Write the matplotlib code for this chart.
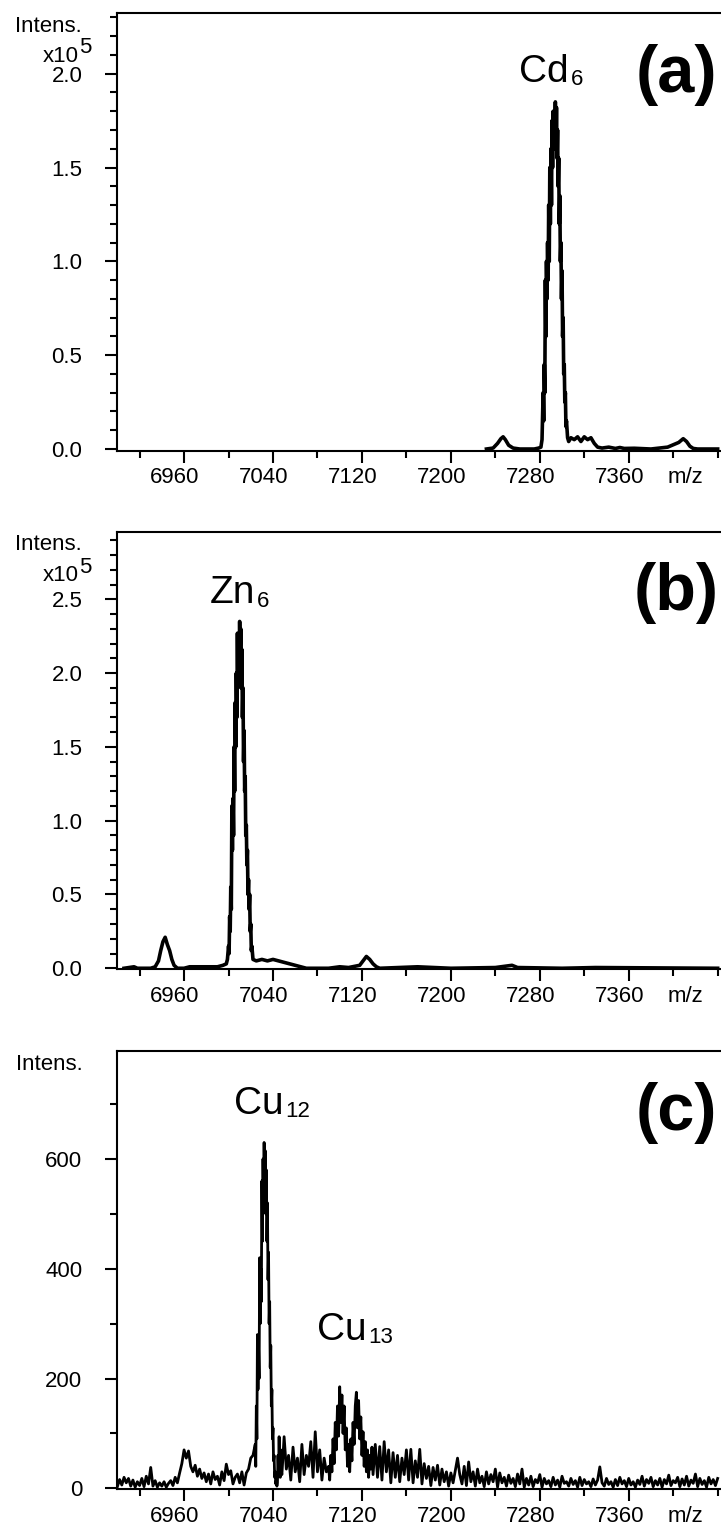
import numpy as np
import matplotlib
matplotlib.use('Agg')
import matplotlib.pyplot as plt
from matplotlib.ticker import MultipleLocator, FormatStrFormatter

plt.rcParams['font.family'] = ['Liberation Sans', 'DejaVu Sans']

# ---- data ----
# (a) Cd6, intensity in units of 1e5
cd_mz = [7232, 7238, 7242, 7245, 7247, 7249, 7252, 7256, 7262, 7275,
         7279, 7281, 7282, 7283, 7283.5, 7284, 7284.5, 7285, 7285.5, 7286,
         7286.5, 7287, 7287.5, 7288, 7288.5, 7289, 7289.5, 7290, 7290.5, 7291,
         7291.5, 7292, 7292.5, 7293, 7293.5, 7294, 7294.5, 7295, 7295.5, 7296,
         7296.5, 7297, 7297.5, 7298, 7298.5, 7299, 7299.5, 7300, 7300.5, 7301,
         7301.5, 7302, 7302.5, 7303, 7303.5, 7304, 7305, 7306, 7308, 7311,
         7314, 7317, 7320, 7323, 7326, 7329, 7332, 7336, 7342, 7348,
         7352, 7356, 7365, 7380, 7395, 7405, 7409, 7412, 7415, 7418,
         7422, 7428, 7440]
cd_int = [0, 0.005, 0.03, 0.055, 0.065, 0.05, 0.02, 0.005, 0, 0,
          0.005, 0.01, 0.05, 0.3, 0.15, 0.45, 0.3, 0.9, 0.6, 1.0,
          0.8, 1.1, 0.9, 1.3, 1.0, 1.5, 1.2, 1.6, 1.3, 1.75,
          1.5, 1.8, 1.6, 1.75, 1.7, 1.85, 1.6, 1.82, 1.55, 1.7,
          1.4, 1.55, 1.2, 1.35, 1.0, 1.1, 0.8, 0.95, 0.6, 0.7,
          0.4, 0.45, 0.25, 0.3, 0.12, 0.15, 0.06, 0.04, 0.06, 0.05,
          0.065, 0.04, 0.065, 0.05, 0.06, 0.03, 0.01, 0.005, 0.01, 0.003,
          0.008, 0.003, 0.004, 0, 0.01, 0.035, 0.055, 0.04, 0.015, 0.003,
          0, 0, 0]

# (b) Zn6, intensity in units of 1e5
zn_mz = [6906, 6915, 6918, 6930, 6934, 6937, 6939, 6941, 6943, 6945,
         6947, 6949, 6951, 6954, 6960, 6965, 6990, 6995, 6998, 6999,
         7000, 7000.5, 7001, 7001.5, 7002, 7002.5, 7003, 7003.5, 7004, 7004.5,
         7005, 7005.5, 7006, 7006.5, 7007, 7007.5, 7008, 7008.5, 7009, 7009.5,
         7010, 7010.5, 7011, 7011.5, 7012, 7012.5, 7013, 7013.5, 7014, 7014.5,
         7015, 7015.5, 7016, 7016.5, 7017, 7017.5, 7018, 7018.5, 7019, 7019.5,
         7020, 7020.5, 7021, 7022, 7025, 7030, 7035, 7040, 7045, 7050,
         7055, 7060, 7065, 7070, 7090, 7100, 7108, 7118, 7121, 7124,
         7127, 7130, 7133, 7136, 7170, 7200, 7240, 7255, 7260, 7300,
         7330, 7440]
zn_int = [0, 0.01, 0, 0, 0.01, 0.05, 0.12, 0.18, 0.21, 0.16,
          0.12, 0.06, 0.02, 0, 0, 0.01, 0.01, 0.02, 0.03, 0.06,
          0.15, 0.1, 0.35, 0.25, 0.55, 0.4, 1.1, 0.8, 1.15, 0.9,
          1.5, 1.2, 1.8, 1.5, 2.0, 1.7, 2.27, 1.9, 2.25, 2.0,
          2.35, 2.1, 2.3, 1.9, 2.16, 1.7, 1.9, 1.4, 1.61, 1.2,
          1.3, 0.9, 0.97, 0.7, 0.8, 0.5, 0.6, 0.4, 0.5, 0.25,
          0.3, 0.12, 0.15, 0.06, 0.05, 0.06, 0.05, 0.06, 0.05, 0.04,
          0.03, 0.02, 0.01, 0, 0, 0.01, 0.005, 0.02, 0.05, 0.08,
          0.06, 0.03, 0.01, 0, 0.01, 0, 0.005, 0.02, 0.005, 0,
          0.005, 0]

# (c) Cu12 / Cu13, raw counts; finer readings across the two clusters
cu_mz = np.concatenate([np.arange(6900, 7024, 2),
                        np.arange(7024, 7048, 0.5),
                        np.arange(7048, 7090, 2),
                        np.arange(7090, 7130, 1),
                        np.arange(7130, 7441, 2)])
cu_int_left = [3, 16, 6, 20, 10, 18, 4, 15, 2, 12,
               5, 18, 3, 22, 8, 38, 4, 14, 2, 10,
               4, 12, 2, 9, 14, 5, 20, 10, 28, 45,
               70, 55, 68, 40, 30, 42, 22, 35, 18, 28,
               12, 26, 8, 30, 16, 22, 6, 30, 14, 44,
               25, 32, 8, 20, 26, 10, 30, 6, 28, 35,
               55, 60]
cu12_int = [80, 40, 150, 90, 280, 180, 260, 200, 420, 300,
            400, 340, 560, 450, 600, 520, 630, 550, 615, 500,
            580, 450, 520, 380, 430, 300, 340, 220, 260, 150,
            180, 90, 110, 50, 60, 20, 30, 8, 15, 4,
            10, 60, 30, 94, 40, 20, 70, 30]
cu_int_mid = [25, 94, 35, 60, 15, 75, 30, 55, 12, 80,
              25, 60, 40, 85, 20, 103, 30, 70, 15, 55,
              30]
cu13_int = [40, 15, 60, 30, 90, 45, 120, 70, 150, 95,
            185, 120, 170, 100, 150, 70, 110, 40, 80, 30,
            90, 50, 120, 80, 150, 175, 110, 160, 90, 130,
            60, 103, 40, 85, 30, 70, 20, 60, 35, 75]
cu_int_tail = [25, 80, 20, 76, 15, 85, 30, 70, 10, 65,
               20, 60, 12, 55, 25, 70, 15, 71, 10, 50,
               20, 71, 8, 45, 18, 40, 5, 38, 15, 42,
               6, 35, 12, 30, 4, 28, 10, 32, 55, 25,
               8, 40, 5, 48, 12, 30, 4, 35, 10, 22,
               3, 30, 8, 25, 12, 35, 2, 28, 10, 20,
               4, 24, 9, 18, 3, 26, 8, 35, 2, 18,
               6, 22, 3, 16, 10, 25, 2, 18, 8, 14,
               3, 20, 6, 15, 2, 22, 9, 12, 4, 18,
               7, 14, 2, 20, 5, 16, 8, 12, 3, 17,
               6, 15, 39, 10, 4, 18, 7, 12, 2, 16,
               5, 20, 8, 14, 3, 18, 6, 12, 2, 15,
               7, 22, 4, 16, 9, 20, 3, 14, 6, 18,
               2, 16, 8, 24, 5, 14, 10, 20, 3, 17,
               6, 22, 4, 15, 9, 26, 3, 18, 7, 14,
               2, 20, 8, 16, 5, 18]
cu_int = cu_int_left + cu12_int + cu_int_mid + cu13_int + cu_int_tail

xticks = [6960, 7040, 7120, 7200, 7280, 7360]

# ---- figure ----
W, H = 721, 1528
fig = plt.figure(figsize=(W / 100, H / 100), dpi=100)
fig.patch.set_facecolor('white')


def fx(x):
    return x / W


def fy(y):
    return 1 - y / H


def pixtext(x, y, s, **kw):
    fig.text(fx(x), fy(y), s, va='baseline', **kw)


fs = 16
left = 116.7
# (top px, bottom px, ylim, major step, minor step, fmt, x, y, lw)
panels = [
    (13.3, 450.7, (-0.009, 2.322), 0.5, 0.1, '%.1f', cd_mz, cd_int, 2.6),
    (531.7, 969.3, (-0.007, 2.958), 0.5, 0.1, '%.1f', zn_mz, zn_int, 2.6),
    (1051.0, 1489.3, (-1.8, 796.6), 200, 100, '%d', cu_mz, cu_int, 2.0),
]

for top, bot, ylim, maj, mnr, fmt, xs, ys, lw in panels:
    ax = fig.add_axes([fx(left), fy(bot), 1 - fx(left), (bot - top) / H])
    ax.plot(xs, ys, color='black', linewidth=lw)
    ax.set_xlim(6899.4, 7443)
    ax.set_ylim(*ylim)
    ax.spines['right'].set_visible(False)
    for sp in ['left', 'top', 'bottom']:
        ax.spines[sp].set_linewidth(1.5)
    ax.yaxis.set_major_locator(MultipleLocator(maj))
    ax.yaxis.set_minor_locator(MultipleLocator(mnr))
    ax.yaxis.set_major_formatter(FormatStrFormatter(fmt))
    ax.set_xticks(xticks)
    ax.xaxis.set_minor_locator(MultipleLocator(40))
    ax.set_xticklabels([])
    ax.tick_params(axis='both', which='major', direction='out', length=8.3,
                   width=1.5, labelsize=fs)
    ax.tick_params(axis='both', which='minor', direction='out', length=5.3,
                   width=1.5)
    ax.tick_params(axis='y', pad=16.5)
    ax.tick_params(top=False, right=False, which='both')
    # x labels sit a little left of their ticks in the original
    for v in xticks:
        ax.annotate(str(v), xy=(v, 0), xycoords=('data', 'axes fraction'),
                    xytext=(-6.5, -23.5), textcoords='offset points',
                    ha='center', va='baseline', fontsize=fs)
    ax.annotate('m/z', xy=(7411, 0), xycoords=('data', 'axes fraction'),
                xytext=(0, -23.5), textcoords='offset points',
                ha='center', va='baseline', fontsize=fs)

# axis headers
pixtext(82, 31.7, 'Intens.', ha='right', fontsize=fs)
pixtext(78.3, 61.7, 'x10', ha='right', fontsize=fs)
pixtext(79.5, 53.3, '5', ha='left', fontsize=fs)
pixtext(82, 550, 'Intens.', ha='right', fontsize=fs)
pixtext(78.3, 581, 'x10', ha='right', fontsize=fs)
pixtext(79.5, 573, '5', ha='left', fontsize=fs)
pixtext(83, 1070, 'Intens.', ha='right', fontsize=fs)

# peak labels
big = 28
sub = 16
pixtext(569, 82, 'Cd', ha='right', fontsize=big)
pixtext(570.5, 85, '6', ha='left', fontsize=sub)
pixtext(255, 603.3, 'Zn', ha='right', fontsize=big)
pixtext(256.5, 606.7, '6', ha='left', fontsize=sub)
pixtext(284, 1114, 'Cu', ha='right', fontsize=big)
pixtext(285.5, 1117, '12', ha='left', fontsize=sub)
pixtext(367, 1340, 'Cu', ha='right', fontsize=big)
pixtext(368.5, 1343, '13', ha='left', fontsize=sub)

# panel letters
pixtext(676, 92, '(a)', ha='center', fontsize=48, fontweight='bold')
pixtext(676, 610.4, '(b)', ha='center', fontsize=48, fontweight='bold')
pixtext(676, 1129.7, '(c)', ha='center', fontsize=48, fontweight='bold')

fig.savefig('out.png', dpi=100, facecolor='white')
